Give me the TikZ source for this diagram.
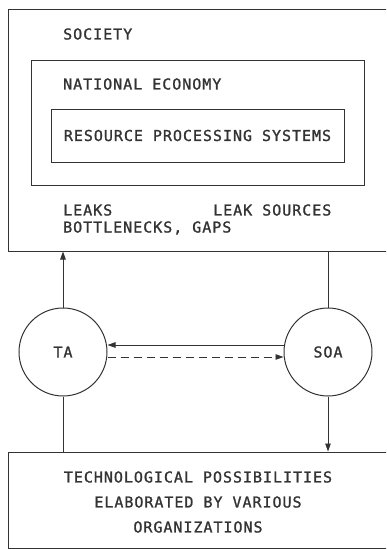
\documentclass[tikz,border=0pt]{standalone}
\usepackage{fontspec}
\newfontfamily\plotfont{DejaVu Sans Mono}[LetterSpace=6.5,FakeBold=1.2]
\usetikzlibrary{arrows.meta,positioning}
\tikzset{
  caja/.style={draw=black!80,line width=1pt,inner sep=0pt},
  circulo/.style={circle,draw=black!80,line width=1pt,minimum size=88pt,inner sep=0pt,
    text=black!80,font={\plotfont\fontsize{15pt}{18pt}\selectfont}},
  rotulo/.style={inner sep=0pt,text=black!80,font={\plotfont\fontsize{15pt}{18pt}\selectfont}},
  linea/.style={draw=black!80,line width=0.9pt},
  flecha/.style={linea,-{Triangle[width=5.5pt,length=8pt]}}
}
\begin{document}
\begin{tikzpicture}[x=1pt,y=-1pt]
\useasboundingbox (0,0) rectangle (386,549);
\clip (0,0) rectangle (386,549);
% cajas
\node[caja,minimum width=384pt,minimum height=242pt] (sociedad) at (200,130){};
\node[caja,minimum width=333pt,minimum height=125pt] (economia) at (197.5,122.5){};
\node[caja,minimum width=293pt,minimum height=53pt,rotulo] (rps) at (197.5,135.5){RESOURCE PROCESSING SYSTEMS};
\node[caja,minimum width=384pt,minimum height=96pt] (tecno) at (200,500){};
% rotulos
\node[rotulo,anchor=west] (tsoc) at (63,34){SOCIETY};
\node[rotulo,anchor=west] (teco) at (63,84){NATIONAL ECONOMY};
\node[rotulo,anchor=west] (tleaks) at (63,210){LEAKS};
\node[rotulo,anchor=west] (tsources) at (213,210){LEAK SOURCES};
\node[rotulo,anchor=west] (tgaps) at (63,228){BOTTLENECKS, GAPS};
\node[rotulo,align=center,font={\plotfont\fontsize{15pt}{25pt}\selectfont}] (ttec) at (198,502)
  {TECHNOLOGICAL POSSIBILITIES\\ELABORATED BY VARIOUS\\ORGANIZATIONS};
% agentes
\node[circulo] (ta) at (63,352){TA};
\node[circulo] (soa) at (328,352){SOA};
% conexiones
\draw[flecha] (ta.north) -- (ta.north |- sociedad.south);
\draw[linea] (soa.north |- sociedad.south) -- (soa.north);
\draw[linea] (ta.south) -- (ta.south |- tecno.north);
\draw[flecha] (soa.south) -- (soa.south |- tecno.north);
\draw[flecha] ([yshift=7pt]soa.west) -- ([yshift=7pt]ta.east);
\draw[flecha,dash pattern=on 8pt off 5pt] ([yshift=-5pt]ta.east) -- ([yshift=-5pt]soa.west);
\end{tikzpicture}
\end{document}
